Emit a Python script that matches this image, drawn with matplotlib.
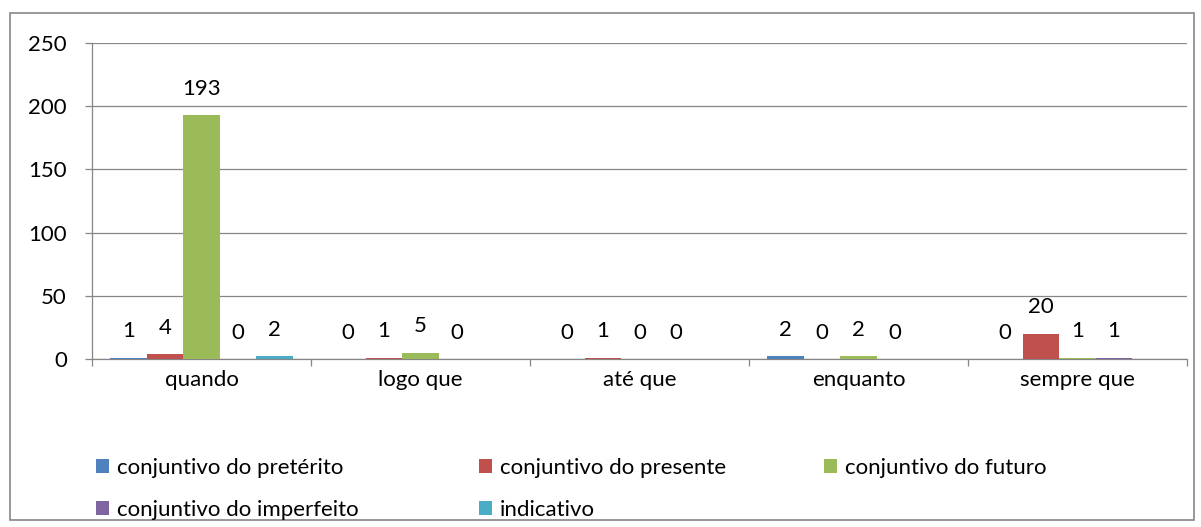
import numpy as np
import matplotlib
import matplotlib.pyplot as plt
from matplotlib.patches import Rectangle, Patch

categories = ['quando', 'logo que', 'até que', 'enquanto', 'sempre que']
series_names = ['conjuntivo do pretérito', 'conjuntivo do presente', 'conjuntivo do futuro',
                'conjuntivo do imperfeito', 'indicativo']
colors = ['#4F81BD', '#C0504D', '#9BBB59', '#8064A2', '#4BACC6']

preterito = [1, 0, 0, 2, 0]
presente = [4, 1, 1, 0, 20]
futuro = [193, 5, 0, 2, 1]
imperfeito = [0, 0, 0, 0, 1]
indicativo = [2, np.nan, np.nan, np.nan, np.nan]
values = [preterito, presente, futuro, imperfeito, indicativo]

yticks = [0, 50, 100, 150, 200, 250]

plt.rcParams['font.family'] = ['Lato', 'DejaVu Sans']
plt.rcParams['font.size'] = 16

fig = plt.figure(figsize=(12.01, 5.27), dpi=100)
ax = fig.add_axes([92 / 1201, 1 - 359 / 527, (1187 - 92) / 1201, (359 - 43) / 527])

# outer chart border
fig.patches.append(Rectangle((10 / 1201, 1 - 520 / 527), 1184 / 1201, 507 / 527,
                             transform=fig.transFigure, fill=False,
                             edgecolor='#868686', linewidth=1.2))

ind = np.arange(len(categories))
width = 1 / 6
handles = []
for j, (name, vals, c) in enumerate(zip(series_names, values, colors)):
    xs = ind + (j - 2) * width
    ax.bar(xs, vals, width, color=c, zorder=3)
    for x, v in zip(xs, vals):
        if np.isnan(v):
            continue
        ax.annotate('%d' % v, (x, v), xytext=(0, 19), textcoords='offset points',
                    ha='center', va='center')
    handles.append(Patch(facecolor=c, label=name))

ax.set_xlim(-0.5, len(categories) - 0.5)
ax.set_ylim(0, 250)
ax.set_yticks(yticks)
ax.yaxis.grid(True, color='#868686', linewidth=0.9, zorder=0)
ax.set_axisbelow(True)

ax.set_xticks(np.arange(len(categories) + 1) - 0.5)
ax.set_xticklabels([])
ax.set_xticks(ind, minor=True)
ax.set_xticklabels(categories, minor=True)
ax.tick_params(axis='x', which='minor', length=0, pad=8)
ax.tick_params(axis='x', which='major', length=5, color='#868686', width=0.9)
ax.tick_params(axis='y', length=5, color='#868686', width=0.9, pad=13)

for s in ['top', 'right']:
    ax.spines[s].set_visible(False)
for s in ['left', 'bottom']:
    ax.spines[s].set_color('#868686')
    ax.spines[s].set_linewidth(0.9)

# legend laid out in three columns as in the original
columns = [[handles[0], handles[3]], [handles[1], handles[4]], [handles[2]]]
col_x = [96, 479, 824]
for hs, x in zip(columns, col_x):
    fig.legend(handles=hs, loc='upper left', bbox_to_anchor=(x / 1201, 1 - 458 / 527),
               frameon=False, handlelength=0.6, handleheight=0.6, handletextpad=0.35,
               labelspacing=0.98, borderaxespad=0, borderpad=0)

fig.savefig('out.png', dpi=100)
